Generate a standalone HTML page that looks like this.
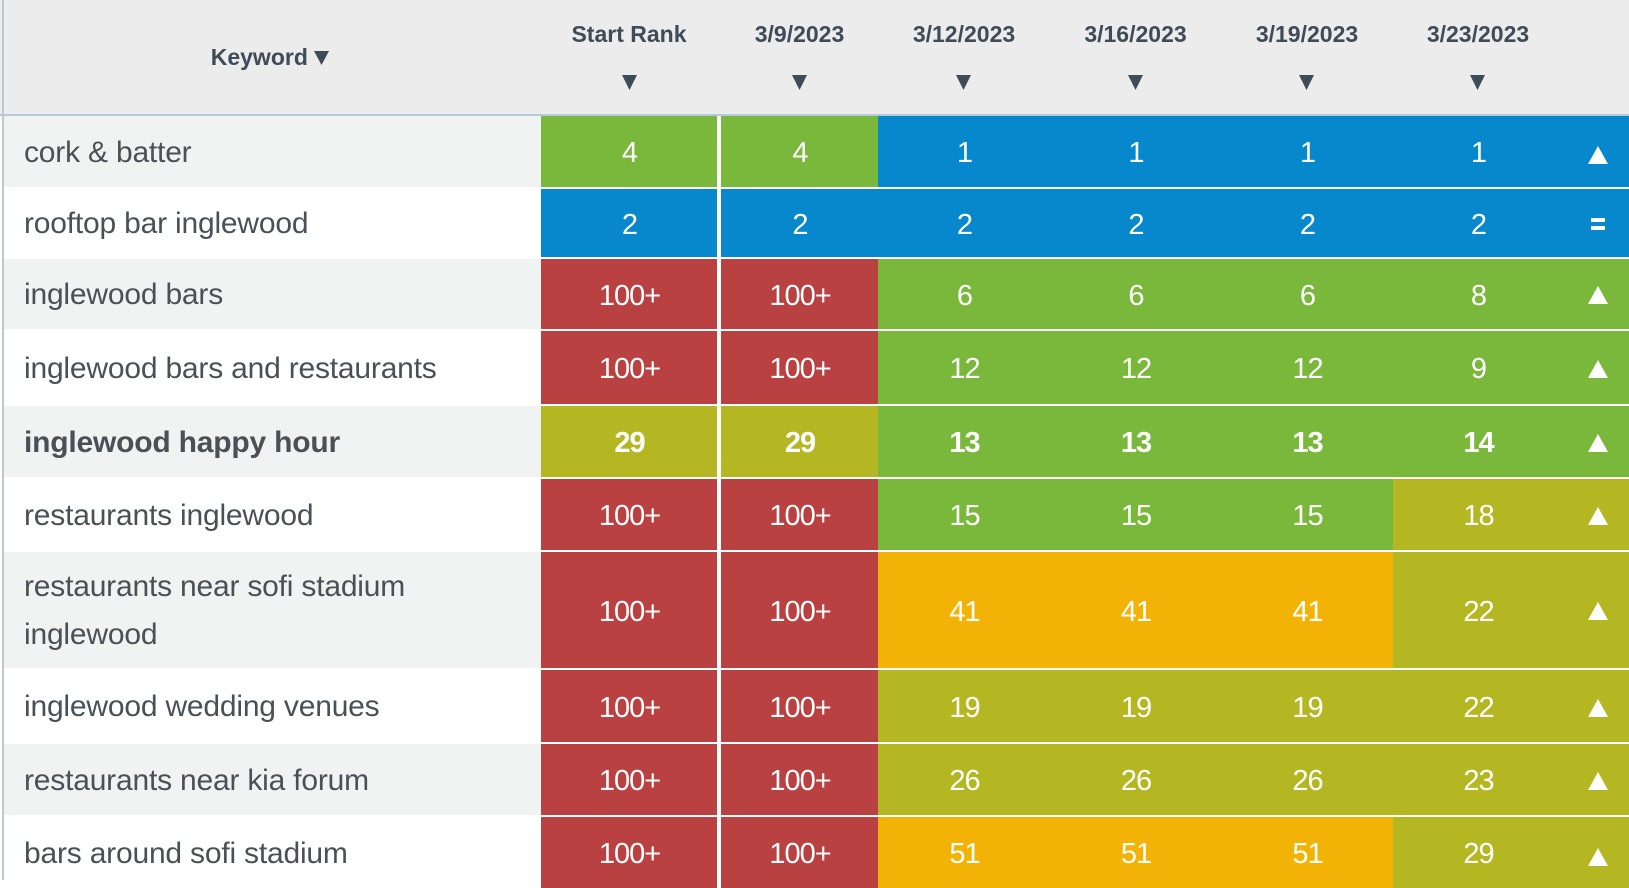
<!DOCTYPE html>
<html>
<head>
<meta charset="utf-8">
<style>
  html,body{margin:0;padding:0;}
  body{width:1629px;height:880px;overflow:hidden;background:#fff;position:relative;font-family:"Liberation Sans",Arial,sans-serif;}
  .abs{position:absolute;}
  .hdr{left:0;top:0;width:1629px;height:114px;background:#ececec;}
  .hline{left:0;top:114px;width:1629px;height:2px;background:#b3cbdd;}
  .lborder{left:2px;top:0;width:2px;height:880px;background:#bccad4;}
  .ht{position:absolute;font-weight:bold;font-size:23px;color:#3f4b56;white-space:nowrap;text-align:center;line-height:27px;}
  .tri{position:absolute;}
  .kw{position:absolute;left:4px;width:537px;display:flex;align-items:center;color:#4b5056;font-size:30px;letter-spacing:-0.2px;white-space:nowrap;}
  .kw span{padding-left:20px;position:relative;top:1px;}
  .c{position:absolute;display:flex;align-items:center;justify-content:center;color:#fff;font-size:29px;letter-spacing:-1px;}
  .c span{position:relative;top:2px;padding-left:1px;}
  .b{font-weight:bold;}
  .G{background:#79b83a;}
  .B{background:#0787cc;}
  .R{background:#b94141;}
  .O{background:#b4b722;}
  .Y{background:#f3b306;}
</style>
</head>
<body>
<div class="abs hdr"></div>
<div class="abs hline"></div>

<!-- header text -->
<div class="ht" style="left:0;width:541px;top:44px;">Keyword <svg width="16" height="15" viewBox="0 0 16 15" style="vertical-align:-1px"><polygon points="0,0 15,0 7.5,14" fill="#3f4b56"/></svg></div>
<div class="ht" style="left:541px;width:176px;top:21px;">Start Rank</div>
<div class="ht" style="left:721px;width:157px;top:21px;">3/9/2023</div>
<div class="ht" style="left:878px;width:172px;top:21px;">3/12/2023</div>
<div class="ht" style="left:1050px;width:171px;top:21px;">3/16/2023</div>
<div class="ht" style="left:1221px;width:172px;top:21px;">3/19/2023</div>
<div class="ht" style="left:1393px;width:170px;top:21px;">3/23/2023</div>
<svg class="tri" style="left:622px;top:75px" width="16" height="15"><polygon points="0,0 15,0 7.5,15" fill="#3f4b56"/></svg>
<svg class="tri" style="left:792px;top:75px" width="16" height="15"><polygon points="0,0 15,0 7.5,15" fill="#3f4b56"/></svg>
<svg class="tri" style="left:956px;top:75px" width="16" height="15"><polygon points="0,0 15,0 7.5,15" fill="#3f4b56"/></svg>
<svg class="tri" style="left:1128px;top:75px" width="16" height="15"><polygon points="0,0 15,0 7.5,15" fill="#3f4b56"/></svg>
<svg class="tri" style="left:1299px;top:75px" width="16" height="15"><polygon points="0,0 15,0 7.5,15" fill="#3f4b56"/></svg>
<svg class="tri" style="left:1470px;top:75px" width="16" height="15"><polygon points="0,0 15,0 7.5,15" fill="#3f4b56"/></svg>

<!-- Row 1 -->
<div class="kw" style="top:116px;height:71px;background:#f1f2f2;"><span>cork &amp; batter</span></div>
<div class="c G" style="left:541px;top:116px;width:176px;height:71px;"><span>4</span></div>
<div class="c G" style="left:721px;top:116px;width:157px;height:71px;"><span>4</span></div>
<div class="c B" style="left:878px;top:116px;width:172px;height:71px;"><span>1</span></div>
<div class="c B" style="left:1050px;top:116px;width:171px;height:71px;"><span>1</span></div>
<div class="c B" style="left:1221px;top:116px;width:172px;height:71px;"><span>1</span></div>
<div class="c B" style="left:1393px;top:116px;width:170px;height:71px;"><span>1</span></div>
<div class="c B" style="left:1563px;top:116px;width:66px;height:71px;"></div>

<!-- Row 2 -->
<div class="kw" style="top:189px;height:68px;background:#fff;"><span>rooftop bar inglewood</span></div>
<div class="c B" style="left:541px;top:189px;width:176px;height:68px;"><span>2</span></div>
<div class="c B" style="left:721px;top:189px;width:157px;height:68px;"><span>2</span></div>
<div class="c B" style="left:878px;top:189px;width:172px;height:68px;"><span>2</span></div>
<div class="c B" style="left:1050px;top:189px;width:171px;height:68px;"><span>2</span></div>
<div class="c B" style="left:1221px;top:189px;width:172px;height:68px;"><span>2</span></div>
<div class="c B" style="left:1393px;top:189px;width:170px;height:68px;"><span>2</span></div>
<div class="c B" style="left:1563px;top:189px;width:66px;height:68px;"></div>

<!-- Row 3 -->
<div class="kw" style="top:259px;height:70px;background:#f1f2f2;"><span>inglewood bars</span></div>
<div class="c R" style="left:541px;top:259px;width:176px;height:70px;"><span>100+</span></div>
<div class="c R" style="left:721px;top:259px;width:157px;height:70px;"><span>100+</span></div>
<div class="c G" style="left:878px;top:259px;width:172px;height:70px;"><span>6</span></div>
<div class="c G" style="left:1050px;top:259px;width:171px;height:70px;"><span>6</span></div>
<div class="c G" style="left:1221px;top:259px;width:172px;height:70px;"><span>6</span></div>
<div class="c G" style="left:1393px;top:259px;width:170px;height:70px;"><span>8</span></div>
<div class="c G" style="left:1563px;top:259px;width:66px;height:70px;"></div>

<!-- Row 4 -->
<div class="kw" style="top:331px;height:73px;background:#fff;"><span>inglewood bars and restaurants</span></div>
<div class="c R" style="left:541px;top:331px;width:176px;height:73px;"><span>100+</span></div>
<div class="c R" style="left:721px;top:331px;width:157px;height:73px;"><span>100+</span></div>
<div class="c G" style="left:878px;top:331px;width:172px;height:73px;"><span>12</span></div>
<div class="c G" style="left:1050px;top:331px;width:171px;height:73px;"><span>12</span></div>
<div class="c G" style="left:1221px;top:331px;width:172px;height:73px;"><span>12</span></div>
<div class="c G" style="left:1393px;top:331px;width:170px;height:73px;"><span>9</span></div>
<div class="c G" style="left:1563px;top:331px;width:66px;height:73px;"></div>

<!-- Row 5 -->
<div class="kw b" style="top:406px;height:71px;background:#f1f2f2;"><span>inglewood happy hour</span></div>
<div class="c O b" style="left:541px;top:406px;width:176px;height:71px;"><span>29</span></div>
<div class="c O b" style="left:721px;top:406px;width:157px;height:71px;"><span>29</span></div>
<div class="c G b" style="left:878px;top:406px;width:172px;height:71px;"><span>13</span></div>
<div class="c G b" style="left:1050px;top:406px;width:171px;height:71px;"><span>13</span></div>
<div class="c G b" style="left:1221px;top:406px;width:172px;height:71px;"><span>13</span></div>
<div class="c G b" style="left:1393px;top:406px;width:170px;height:71px;"><span>14</span></div>
<div class="c G" style="left:1563px;top:406px;width:66px;height:71px;"></div>

<!-- Row 6 -->
<div class="kw" style="top:479px;height:71px;background:#fff;"><span>restaurants inglewood</span></div>
<div class="c R" style="left:541px;top:479px;width:176px;height:71px;"><span>100+</span></div>
<div class="c R" style="left:721px;top:479px;width:157px;height:71px;"><span>100+</span></div>
<div class="c G" style="left:878px;top:479px;width:172px;height:71px;"><span>15</span></div>
<div class="c G" style="left:1050px;top:479px;width:171px;height:71px;"><span>15</span></div>
<div class="c G" style="left:1221px;top:479px;width:172px;height:71px;"><span>15</span></div>
<div class="c O" style="left:1393px;top:479px;width:170px;height:71px;"><span>18</span></div>
<div class="c O" style="left:1563px;top:479px;width:66px;height:71px;"></div>

<!-- Row 7 -->
<div class="kw" style="top:552px;height:116px;background:#f1f2f2;white-space:normal;line-height:48px;"><span>restaurants near sofi stadium<br>inglewood</span></div>
<div class="c R" style="left:541px;top:552px;width:176px;height:116px;"><span>100+</span></div>
<div class="c R" style="left:721px;top:552px;width:157px;height:116px;"><span>100+</span></div>
<div class="c Y" style="left:878px;top:552px;width:172px;height:116px;"><span>41</span></div>
<div class="c Y" style="left:1050px;top:552px;width:171px;height:116px;"><span>41</span></div>
<div class="c Y" style="left:1221px;top:552px;width:172px;height:116px;"><span>41</span></div>
<div class="c O" style="left:1393px;top:552px;width:170px;height:116px;"><span>22</span></div>
<div class="c O" style="left:1563px;top:552px;width:66px;height:116px;"></div>

<!-- Row 8 -->
<div class="kw" style="top:670px;height:72px;background:#fff;"><span>inglewood wedding venues</span></div>
<div class="c R" style="left:541px;top:670px;width:176px;height:72px;"><span>100+</span></div>
<div class="c R" style="left:721px;top:670px;width:157px;height:72px;"><span>100+</span></div>
<div class="c O" style="left:878px;top:670px;width:172px;height:72px;"><span>19</span></div>
<div class="c O" style="left:1050px;top:670px;width:171px;height:72px;"><span>19</span></div>
<div class="c O" style="left:1221px;top:670px;width:172px;height:72px;"><span>19</span></div>
<div class="c O" style="left:1393px;top:670px;width:170px;height:72px;"><span>22</span></div>
<div class="c O" style="left:1563px;top:670px;width:66px;height:72px;"></div>

<!-- Row 9 -->
<div class="kw" style="top:744px;height:71px;background:#f1f2f2;"><span>restaurants near kia forum</span></div>
<div class="c R" style="left:541px;top:744px;width:176px;height:71px;"><span>100+</span></div>
<div class="c R" style="left:721px;top:744px;width:157px;height:71px;"><span>100+</span></div>
<div class="c O" style="left:878px;top:744px;width:172px;height:71px;"><span>26</span></div>
<div class="c O" style="left:1050px;top:744px;width:171px;height:71px;"><span>26</span></div>
<div class="c O" style="left:1221px;top:744px;width:172px;height:71px;"><span>26</span></div>
<div class="c O" style="left:1393px;top:744px;width:170px;height:71px;"><span>23</span></div>
<div class="c O" style="left:1563px;top:744px;width:66px;height:71px;"></div>

<!-- Row 10 -->
<div class="kw" style="top:817px;height:71px;background:#fff;"><span>bars around sofi stadium</span></div>
<div class="c R" style="left:541px;top:817px;width:176px;height:71px;"><span>100+</span></div>
<div class="c R" style="left:721px;top:817px;width:157px;height:71px;"><span>100+</span></div>
<div class="c Y" style="left:878px;top:817px;width:172px;height:71px;"><span>51</span></div>
<div class="c Y" style="left:1050px;top:817px;width:171px;height:71px;"><span>51</span></div>
<div class="c Y" style="left:1221px;top:817px;width:172px;height:71px;"><span>51</span></div>
<div class="c O" style="left:1393px;top:817px;width:170px;height:71px;"><span>29</span></div>
<div class="c O" style="left:1563px;top:817px;width:66px;height:71px;"></div>

<!-- trend icons -->
<svg class="abs" style="left:0;top:0" width="1629" height="880">
  <g fill="#ffffff">
    <polygon points="1588,164 1608,164 1598,146"/>
    <rect x="1591" y="218" width="14" height="4"/>
    <rect x="1591" y="226" width="14" height="4"/>
    <polygon points="1588,304 1608,304 1598,286"/>
    <polygon points="1588,378 1608,378 1598,360"/>
    <polygon points="1588,452 1608,452 1598,434"/>
    <polygon points="1588,525 1608,525 1598,507"/>
    <polygon points="1588,620 1608,620 1598,602"/>
    <polygon points="1588,717 1608,717 1598,699"/>
    <polygon points="1588,790 1608,790 1598,772"/>
    <polygon points="1588,866 1608,866 1598,848"/>
  </g>
</svg>

<div class="abs lborder"></div>
</body>
</html>
